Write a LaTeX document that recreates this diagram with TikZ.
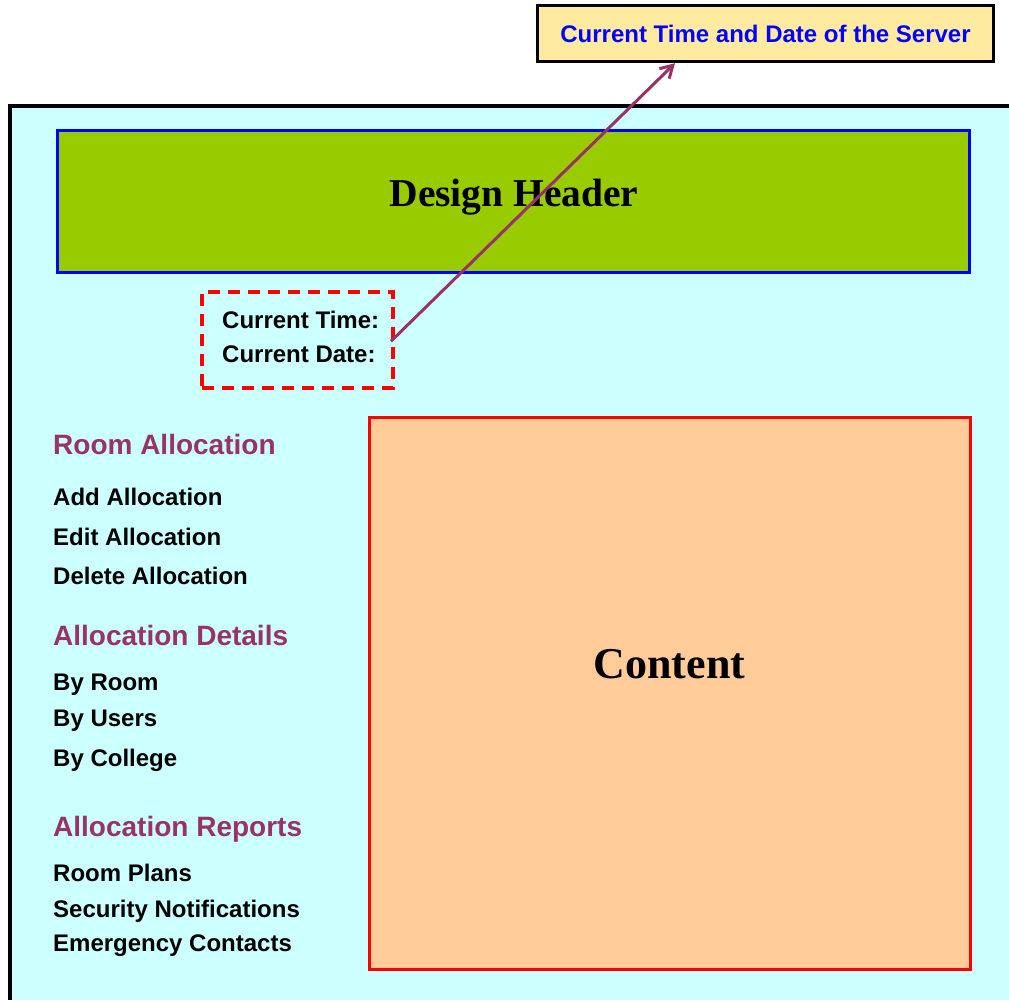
\documentclass[tikz,border=0pt]{standalone}
\usepackage{fontspec}
\newfontfamily\arialf{Liberation Sans}
\newfontfamily\timesf{Liberation Serif}
\usetikzlibrary{arrows.meta}
\definecolor{bgcyan}{HTML}{CCFFFF}
\definecolor{headgreen}{HTML}{99CC00}
\definecolor{contentorange}{HTML}{FFCC99}
\definecolor{calloutyellow}{HTML}{FFEBA0}
\definecolor{menupurple}{HTML}{993366}
\definecolor{arrowpurple}{HTML}{993366}
\begin{document}
\begin{tikzpicture}[x=1pt,y=-1pt,
  menuhead/.style={anchor=base west, inner sep=0, text=menupurple, font=\arialf\bfseries\fontsize{28}{30}\selectfont},
  menuitem/.style={anchor=base west, inner sep=0, text=black, font=\arialf\bfseries\fontsize{24}{28}\selectfont},
  timetext/.style={anchor=base west, inner sep=0, text=black, font=\arialf\bfseries\fontsize{24}{28}\selectfont},
  bigserif/.style={inner sep=0, text=black, font=\timesf\bfseries\fontsize{39.5}{44}\selectfont},
  box/.style={draw, line width=3pt, inner sep=0, minimum width=#1},
]
\useasboundingbox (0,0) rectangle (1009,999);
\clip (0,0) rectangle (1009,999);

% outer frame
\draw[line width=4pt, fill=bgcyan] (10,106) rectangle (1040,1030);

% header
\node[box=912pt, draw=blue, fill=headgreen, minimum height=142pt] (header) at (513.5,201) {};
\node[bigserif, anchor=base] (headertext) at (514,206.7) {Design Header};

% content
\node[box=601pt, draw=red, fill=contentorange, minimum height=552pt] (content) at (669.5,693) {};
\node[bigserif, anchor=base, font=\timesf\bfseries\fontsize{44}{48}\selectfont] (contenttext) at (669.5,678.3) {Content};

% time box
\node[draw=red, line width=4pt, dash pattern=on 12pt off 8pt, inner sep=0, minimum width=190.5pt, minimum height=96.5pt] (timebox) at (297.25,339.75) {};
\node[timetext] (ctime) at (222,328.3) {Current Time:};
\node[timetext] (cdate) at (222,362.7) {Current Date:};

% callout
\node[draw=black, line width=3pt, fill=calloutyellow, inner sep=0, minimum width=455.6pt, minimum height=56pt,
      text=blue, font=\arialf\bfseries\fontsize{24}{28}\selectfont] (server) at (765.5,33.7) {Current Time and Date of the Server};

\draw[arrowpurple, line width=3pt, -{Straight Barb[length=12pt,width=14pt]}]
  ([xshift=-3.5pt,yshift=-1.5pt]timebox.east) -- ([xshift=-90.5pt]server.south);

% menu
\node[menuhead] (h1) at (53,454) {Room Allocation};
\node[menuitem] (m1) at (53,505.7) {Add Allocation};
\node[menuitem] (m2) at (53,545.7) {Edit Allocation};
\node[menuitem] (m3) at (53,584) {Delete Allocation};
\node[menuhead] (h2) at (53,645.7) {Allocation Details};
\node[menuitem] (m4) at (53,690) {By Room};
\node[menuitem] (m5) at (53,726.7) {By Users};
\node[menuitem] (m6) at (53,766.7) {By College};
\node[menuhead] (h3) at (53,836.7) {Allocation Reports};
\node[menuitem] (m7) at (53,881) {Room Plans};
\node[menuitem] (m8) at (53,917.7) {Security Notifications};
\node[menuitem] (m9) at (53,951.7) {Emergency Contacts};
\end{tikzpicture}
\end{document}
